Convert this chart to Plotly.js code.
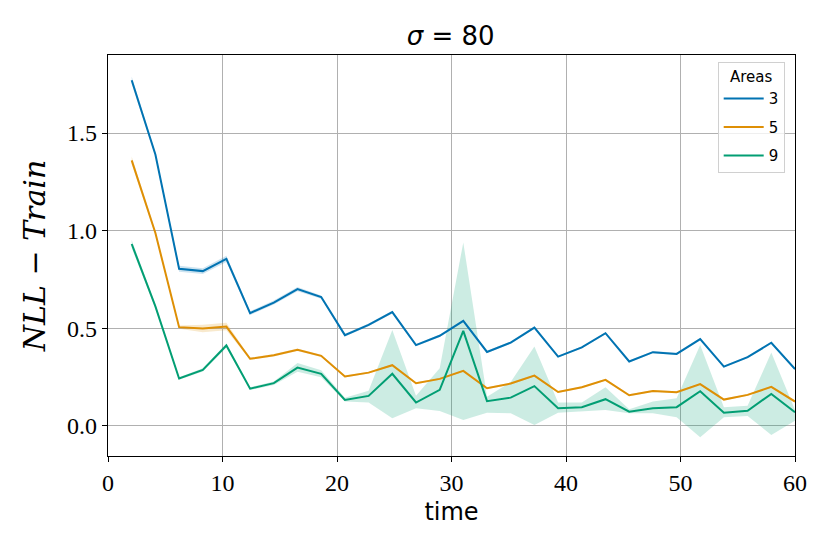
<!DOCTYPE html>
<html>
<head>
<meta charset="utf-8">
<script src="https://cdn.plot.ly/plotly-3.0.1.min.js"></script>
<style>
  html, body { margin: 0; padding: 0; background: #fff; }
  #plot { width: 830px; height: 554px; }
</style>
</head>
<body>
<div id="plot"></div>
<script>
// time steps (29 evaluation points, 60/29 apart)
var time = [2.07, 4.14, 6.21, 8.28, 10.34, 12.41, 14.48, 16.55, 18.62, 20.69,
            22.76, 24.83, 26.9, 28.97, 31.03, 33.1, 35.17, 37.24, 39.31, 41.38,
            43.45, 45.52, 47.59, 49.66, 51.72, 53.79, 55.86, 57.93, 60.0]

// mean NLL per area count
var areas3 = [1.771, 1.39, 0.805, 0.793, 0.856, 0.578, 0.632, 0.701, 0.66, 0.465,
              0.518, 0.583, 0.414, 0.462, 0.538, 0.379, 0.427, 0.504, 0.355, 0.402,
              0.475, 0.33, 0.378, 0.369, 0.445, 0.304, 0.352, 0.426, 0.291]
var areas5 = [1.36, 0.988, 0.506, 0.499, 0.509, 0.344, 0.362, 0.39, 0.359, 0.253,
              0.273, 0.311, 0.219, 0.241, 0.282, 0.193, 0.217, 0.258, 0.174, 0.198,
              0.236, 0.157, 0.179, 0.173, 0.214, 0.135, 0.159, 0.2, 0.125]
var areas9 = [0.932, 0.612, 0.243, 0.287, 0.412, 0.191, 0.219, 0.299, 0.267, 0.133,
              0.154, 0.267, 0.12, 0.185, 0.487, 0.127, 0.145, 0.204, 0.091, 0.096,
              0.137, 0.073, 0.091, 0.096, 0.178, 0.068, 0.078, 0.164, 0.07]

// confidence band bounds
var areas3Hi = [1.79, 1.40, 0.82, 0.808, 0.872, 0.588, 0.642, 0.712, 0.668, 0.472,
                0.525, 0.59, 0.42, 0.468, 0.544, 0.385, 0.433, 0.51, 0.36, 0.407,
                0.48, 0.335, 0.384, 0.375, 0.45, 0.309, 0.357, 0.431, 0.296]
var areas3Lo = [1.752, 1.38, 0.79, 0.778, 0.84, 0.568, 0.622, 0.69, 0.652, 0.458,
                0.511, 0.576, 0.408, 0.456, 0.532, 0.373, 0.421, 0.498, 0.35, 0.397,
                0.47, 0.325, 0.372, 0.363, 0.44, 0.299, 0.347, 0.421, 0.286]
var areas5Hi = [1.38, 0.998, 0.514, 0.518, 0.528, 0.35, 0.368, 0.396, 0.365, 0.258,
                0.278, 0.316, 0.224, 0.246, 0.287, 0.198, 0.222, 0.263, 0.179, 0.203,
                0.241, 0.162, 0.184, 0.178, 0.219, 0.14, 0.164, 0.205, 0.13]
var areas5Lo = [1.34, 0.978, 0.498, 0.48, 0.49, 0.338, 0.356, 0.384, 0.353, 0.248,
                0.268, 0.306, 0.214, 0.236, 0.277, 0.188, 0.212, 0.253, 0.169, 0.193,
                0.231, 0.152, 0.174, 0.168, 0.209, 0.13, 0.154, 0.195, 0.12]
var areas9Hi = [0.952, 0.622, 0.25, 0.295, 0.422, 0.198, 0.228, 0.322, 0.285, 0.145,
                0.18, 0.492, 0.154, 0.296, 0.94, 0.15, 0.225, 0.407, 0.12, 0.12,
                0.198, 0.085, 0.125, 0.142, 0.415, 0.096, 0.103, 0.376, 0.082]
var areas9Lo = [0.912, 0.602, 0.236, 0.279, 0.402, 0.184, 0.21, 0.278, 0.25, 0.125,
                0.12, 0.039, 0.09, 0.077, 0.031, 0.068, 0.065, 0.005, 0.068, 0.074,
                0.082, 0.065, 0.065, 0.045, -0.058, 0.045, 0.051, -0.046, 0.027]

var seriesNames = ['3', '5', '9']
var colors = ['#0173b2', '#de8f05', '#029e73']
var bandColors = ['rgba(1,115,178,0.2)', 'rgba(222,143,5,0.2)', 'rgba(2,158,115,0.2)']

var means = [areas3, areas5, areas9]
var highs = [areas3Hi, areas5Hi, areas9Hi]
var lows = [areas3Lo, areas5Lo, areas9Lo]

var data = []
// bands first so the lines sit on top
for (var i = 0; i < 3; i++) {
  data.push({
    x: time, y: highs[i], type: 'scatter', mode: 'lines',
    line: {width: 0, color: bandColors[i]}, showlegend: false, hoverinfo: 'skip'
  })
  data.push({
    x: time, y: lows[i], type: 'scatter', mode: 'lines', fill: 'tonexty',
    fillcolor: bandColors[i], line: {width: 0, color: bandColors[i]},
    showlegend: false, hoverinfo: 'skip'
  })
}
for (var j = 0; j < 3; j++) {
  data.push({
    x: time, y: means[j], type: 'scatter', mode: 'lines',
    line: {color: colors[j], width: 2}, name: seriesNames[j],
    legendgroup: 'g' + j
  })
}

var serif = 'DejaVu Serif, Liberation Serif, serif'
var sans = 'DejaVu Sans, sans-serif'

var layout = {
  width: 830, height: 554,
  margin: {l: 108, r: 35, t: 55, b: 98},
  paper_bgcolor: '#fff', plot_bgcolor: '#fff',
  title: {
    text: '<i>σ</i> = 80',
    font: {family: sans, size: 26, color: '#000'},
    x: 0.543, xanchor: 'center', y: 0.935, yanchor: 'middle'
  },
  xaxis: {
    range: [0, 60], dtick: 10, tick0: 0,
    showgrid: true, gridcolor: '#b0b0b0', gridwidth: 1,
    zeroline: false, showline: true, linecolor: '#000', linewidth: 1.2, mirror: true,
    ticks: 'outside', ticklen: 5, tickcolor: '#000',
    tickfont: {family: 'Liberation Serif, serif', size: 24, color: '#000'},
    title: {text: 'time', font: {family: sans, size: 24, color: '#000'}, standoff: 8}
  },
  yaxis: {
    range: [-0.154, 1.9], tickvals: [0, 0.5, 1.0, 1.5], tickformat: '.1f',
    showgrid: true, gridcolor: '#b0b0b0', gridwidth: 1,
    zeroline: false, showline: true, linecolor: '#000', linewidth: 1.2, mirror: true,
    ticks: 'outside', ticklen: 5, tickcolor: '#000',
    tickfont: {family: 'Liberation Serif, serif', size: 24, color: '#000'},
    title: {text: '<i>NLL</i> − <i>Train</i>', font: {family: serif, size: 30, color: '#000'}, standoff: 12}
  },
  legend: {
    x: 0.985, xanchor: 'right', y: 0.983, yanchor: 'top',
    traceorder: 'grouped',
    bgcolor: 'rgba(255,255,255,0.8)', bordercolor: '#d0d0d0', borderwidth: 1,
    font: {family: sans, size: 15, color: '#000'},
    title: {text: 'Areas', side: 'top center', font: {family: sans, size: 15, color: '#000'}},
    tracegroupgap: 6, itemwidth: 40
  },
  showlegend: true
}

Plotly.newPlot('plot', data, layout, {staticPlot: true, displayModeBar: false})
</script>
</body>
</html>
